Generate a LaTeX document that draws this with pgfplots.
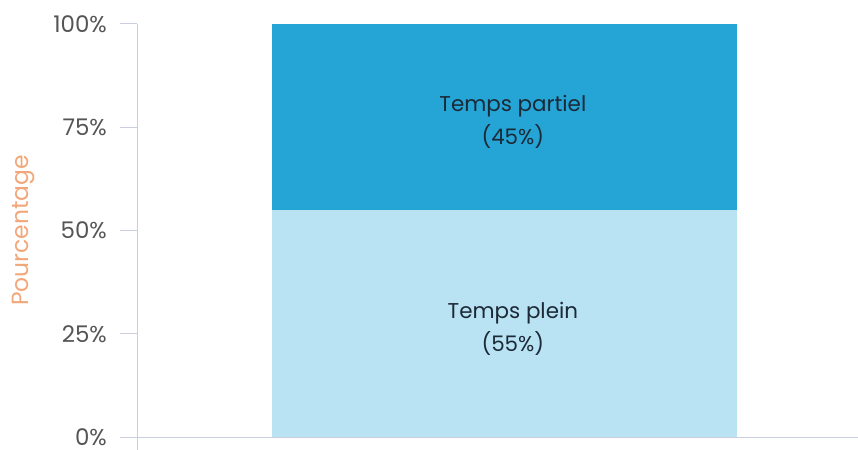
\documentclass[border=0pt]{standalone}
\usepackage{fontspec}
\setmainfont{Poppins}
\usepackage{pgfplots}
\pgfplotsset{compat=1.18}
\definecolor{partiel}{HTML}{25A5D6}
\definecolor{plein}{HTML}{B9E2F2}
\definecolor{axisgray}{HTML}{C9CFDD}
\definecolor{ticktext}{HTML}{555555}
\definecolor{labelorange}{HTML}{F2A77A}
\definecolor{bartext}{HTML}{1C2A38}
\begin{document}
\begin{tikzpicture}
\useasboundingbox (0,0) rectangle (858bp,450bp);
\begin{axis}[
  at={(137bp,13bp)}, anchor=south west,
  scale only axis,
  width=721bp, height=413bp,
  xmin=-0.790, xmax=0.760,
  ymin=0, ymax=100,
  ybar stacked, bar width=1,
  axis x line=bottom, axis y line=left,
  axis line style={-, axisgray, line width=1pt},
  xtick=\empty,
  ytick={0,25,50,75,100},
  yticklabel={\pgfmathprintnumber{\tick}\%},
  tick style={axisgray, line width=1pt},
  tick align=outside, major tick length=17bp,
  /pgf/number format/assume math mode=true,
  yticklabel style={font=\fontsize{23}{26}\selectfont, text=ticktext, inner sep=0pt, xshift=-13bp},
  ylabel={Pourcentage},
  ylabel style={font=\fontsize{23.5}{26}\selectfont, text=labelorange, anchor=base},
  every axis y label/.append style={at={(-108bp,0.5)}},
  clip=false,
]
\addplot[fill=plein, draw=none] coordinates {(0,55)};
\addplot[fill=partiel, draw=none] coordinates {(0,45)};
\coordinate (lblA) at (axis cs:0.018,76.3);
\coordinate (lblB) at (axis cs:0.018,26.2);
\end{axis}
\node[align=center, font=\fontsize{21.5}{33}\selectfont, text=bartext] at (lblA) {Temps partiel\\(45\%)};
\node[align=center, font=\fontsize{21.5}{33}\selectfont, text=bartext] at (lblB) {Temps plein\\(55\%)};
\draw[axisgray, line width=1pt] (137bp,0) -- (137bp,13bp);
\end{tikzpicture}
\end{document}
